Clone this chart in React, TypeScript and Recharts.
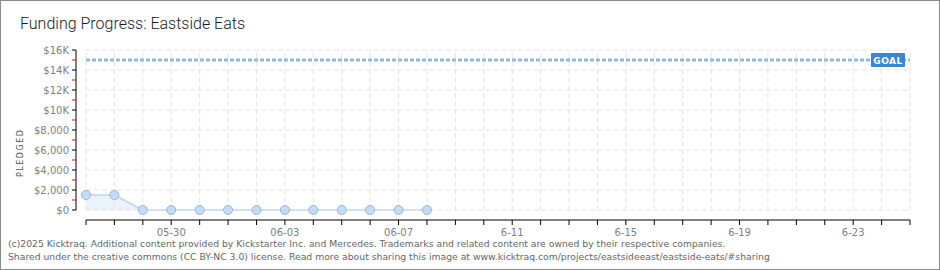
import React from "react";
import { ComposedChart, Area, XAxis, YAxis, ReferenceLine } from "recharts";

// daily pledged totals, one entry per day starting 05-27
const dates = ["05-27", "05-28", "05-29", "05-30", "05-31", "06-01", "06-02", "06-03", "06-04", "06-05", "06-06", "06-07", "06-08"];
const pledged = [1500, 1500, 0, 0, 0, 0, 0, 0, 0, 0, 0, 0, 0];

// x axis: one tick per day of the campaign window (05-27 .. 06-25)
const tickLabels = [
  "", "", "", "05-30", "", "", "", "06-03", "", "", "", "06-07", "", "", "", "6-11",
  "", "", "", "6-15", "", "", "", "6-19", "", "", "", "6-23", "", "",
];
const yTicks = [0, 1000, 2000, 3000, 4000, 5000, 6000, 7000, 8000, 9000, 10000, 11000, 12000, 13000, 14000, 15000, 16000];
const yGrid = [0, 2000, 4000, 6000, 8000, 10000, 12000, 14000, 16000];
const GOAL = 15000;

const LAST_DAY = tickLabels.length - 1;
const X_MIN = -0.352; // offset of the y axis left of the first day
const Y_MIN = -1000; // offset of the x axis below $0
const Y_MAX = 16000;

const data = dates.map((d, i) => ({ day: i, date: d, pledged: pledged[i] }));
const dayTicks = tickLabels.map((_, i) => i);

const fmtMoney = (v: number) =>
  v >= 10000 ? `$${v / 1000}K` : `$${v.toLocaleString("en-US")}`;

const tickFont = { fontFamily: "DejaVu Sans", fontSize: 10, fill: "#808080" };

function YTick(props: any) {
  const { x, y, payload } = props;
  const v = payload.value as number;
  const major = v % 2000 === 0;
  return (
    <g>
      <line x1={x - 4} x2={x} y1={y} y2={y} stroke={major ? "#000" : "#ff0000"} />
      {major && (
        <text x={x - 7} y={y} dy={4} textAnchor="end" {...tickFont}>
          {fmtMoney(v)}
        </text>
      )}
    </g>
  );
}

function XTick(props: any) {
  const { x, y, payload } = props;
  const label = tickLabels[payload.value] || "";
  return (
    <g>
      <line x1={x} x2={x} y1={y} y2={y + 5} stroke="#000" />
      {label && (
        <text x={x} y={y + 16} textAnchor="middle" {...tickFont}>
          {label}
        </text>
      )}
    </g>
  );
}

function GoalLabel(props: any) {
  const vb = props.viewBox || {};
  const right = vb.x + vb.width - 5;
  return (
    <g>
      <rect x={right - 34} y={vb.y - 7} width={34} height={14} rx={1} fill="#3a86d6" />
      <text x={right - 17} y={vb.y + 3.5} textAnchor="middle" fill="#fff" fontFamily="DejaVu Sans" fontSize={9} fontWeight="bold" letterSpacing={0.5}>
        GOAL
      </text>
    </g>
  );
}

export default function App() {
  return (
    <div style={{ position: "absolute", left: 0, top: 0, width: 940, height: 270, background: "#fff", boxSizing: "border-box", border: "1px solid #8a8a8a" }}>
      <div style={{ position: "absolute", left: 19, top: 13, fontFamily: "Roboto", fontWeight: 300, fontSize: 16, color: "#1a1a1a" }}>
        Funding Progress: Eastside Eats
      </div>
      <div style={{ position: "absolute", left: -1, top: -1 }}>
        <ComposedChart width={940} height={270} data={data} margin={{ top: 50, right: 30, bottom: 30, left: 0 }}>
          <XAxis
            dataKey="day"
            type="number"
            domain={[X_MIN, LAST_DAY]}
            ticks={dayTicks}
            interval={0}
            axisLine={false}
            tickLine={false}
            tickSize={0}
            tickMargin={0}
            height={20}
            tick={<XTick />}
            allowDataOverflow
          />
          <YAxis
            type="number"
            domain={[Y_MIN, Y_MAX]}
            ticks={yTicks}
            interval={0}
            axisLine={false}
            tickLine={false}
            tickSize={0}
            tickMargin={0}
            width={76}
            tick={<YTick />}
            allowDataOverflow
            label={{ value: "PLEDGED", angle: -90, position: "insideLeft", offset: 20, dy: 42, style: { fontFamily: "DejaVu Sans", fontSize: 8, fill: "#555", letterSpacing: 1.5 } }}
          />
          {yGrid.map((v) => (
            <ReferenceLine key={`h${v}`} segment={[{ x: 0, y: v }, { x: LAST_DAY, y: v }]} stroke="#e3e3e3" strokeDasharray="5 3" />
          ))}
          {dayTicks.map((d) => (
            <ReferenceLine key={`v${d}`} segment={[{ x: d, y: 0 }, { x: d, y: Y_MAX }]} stroke="#e3e3e3" strokeDasharray="5 3" />
          ))}
          <ReferenceLine segment={[{ x: X_MIN, y: 0 }, { x: X_MIN, y: Y_MAX }]} stroke="#000" ifOverflow="visible" />
          <ReferenceLine segment={[{ x: 0, y: Y_MIN }, { x: LAST_DAY, y: Y_MIN }]} stroke="#000" ifOverflow="visible" />
          <ReferenceLine
            segment={[{ x: 0, y: GOAL }, { x: LAST_DAY, y: GOAL }]}
            stroke="#94b8e6"
            strokeWidth={3}
            strokeDasharray="4 2"
            label={<GoalLabel />}
          />
          <Area
            type="linear"
            dataKey="pledged"
            stroke="#bcd5f2"
            strokeWidth={1.5}
            fill="#eaf2fc"
            fillOpacity={1}
            dot={{ r: 4.5, fill: "#c4dcf7", stroke: "#96b6de", strokeWidth: 1 }}
            isAnimationActive={false}
          />
        </ComposedChart>
      </div>
      <div style={{ position: "absolute", left: 7, top: 236, fontFamily: "DejaVu Sans", fontSize: 9.25, lineHeight: "13px", color: "#666" }}>
        <div>(c)2025 Kicktraq. Additional content provided by Kickstarter Inc. and Mercedes. Trademarks and related content are owned by their respective companies.</div>
        <div>Shared under the creative commons (CC BY-NC 3.0) license. Read more about sharing this image at www.kicktraq.com/projects/eastsideeast/eastside-eats/#sharing</div>
      </div>
    </div>
  );
}
